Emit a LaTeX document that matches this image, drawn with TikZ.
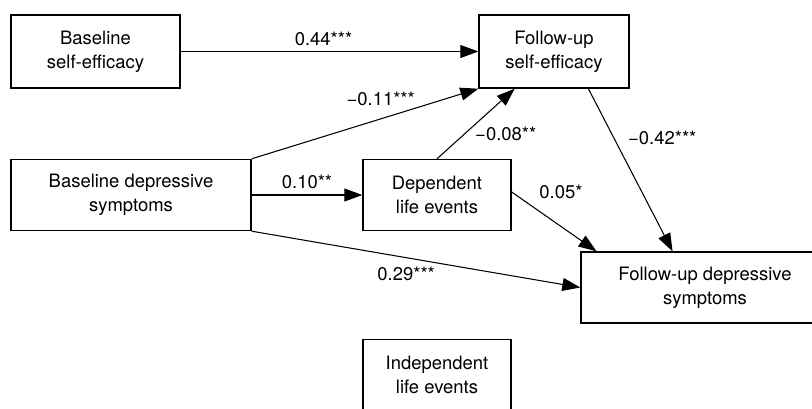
\documentclass[tikz,border=0pt]{standalone}
\usepackage{fontspec}
\setmainfont{TeX Gyre Heros}
\usetikzlibrary{calc, positioning, arrows.meta}

\begin{document}
\begin{tikzpicture}[
    x=0.02cm, y=-0.02cm,
    font=\fontsize{10.5}{13.5}\selectfont,
    box/.style={draw, line width=0.8pt, rectangle, minimum height=1.42cm, align=center, inner sep=0pt},
    lbl/.style={inner sep=1pt, font=\fontsize{10.5}{12}\selectfont},
    arrow/.style={-{Triangle[length=0.36cm, width=0.26cm]}, line width=0.6pt}
]
\useasboundingbox (0,0) rectangle (812,409);

\node[box, minimum width=3.38cm, minimum height=1.46cm] (bse) at (95.5,51.5) {Baseline\\self-efficacy};
\node[box, minimum width=3.0cm, minimum height=1.46cm] (fse) at (554,51.5) {Follow-up\\self-efficacy};
\node[box, minimum width=4.8cm] (bds) at (131,195) {Baseline depressive\\symptoms};
\node[box, minimum width=2.96cm] (dle) at (437,195) {Dependent\\life events};
\node[box, minimum width=4.96cm] (fds) at (705,287.5) {Follow-up depressive\\symptoms};
\node[box, minimum width=2.96cm] (ile) at (437,375) {Independent\\life events};

\draw[arrow] (bse) -- node[lbl, pos=0.48, above=2pt] {0.44***} (fse);
\draw[arrow] (bds.north east) -- node[lbl, pos=0.73, anchor=south east] {−0.11***} (fse.south west);
\draw[arrow] (bds) -- node[lbl, midway, above=2pt] {0.10**} (dle);
\draw[arrow] (dle.north) -- node[lbl, pos=0.35, right=5pt] {−0.08**} ($(fse.south west)!0.24!(fse.south east)$);
\draw[arrow] ($(fse.south west)!0.727!(fse.south east)$) -- node[lbl, pos=0.3, right=7pt] {−0.42***} ($(fds.north west)!0.37!(fds.north east)$);
\draw[arrow] ([yshift=0.06cm]dle.east) -- node[lbl, pos=0.3, anchor=south west, yshift=5pt] {0.05*} ($(fds.north west)!0.065!(fds.north east)$);
\draw[arrow] (bds.south east) -- node[lbl, pos=0.47, below=4pt] {0.29***} (fds.west);
\end{tikzpicture}
\end{document}
